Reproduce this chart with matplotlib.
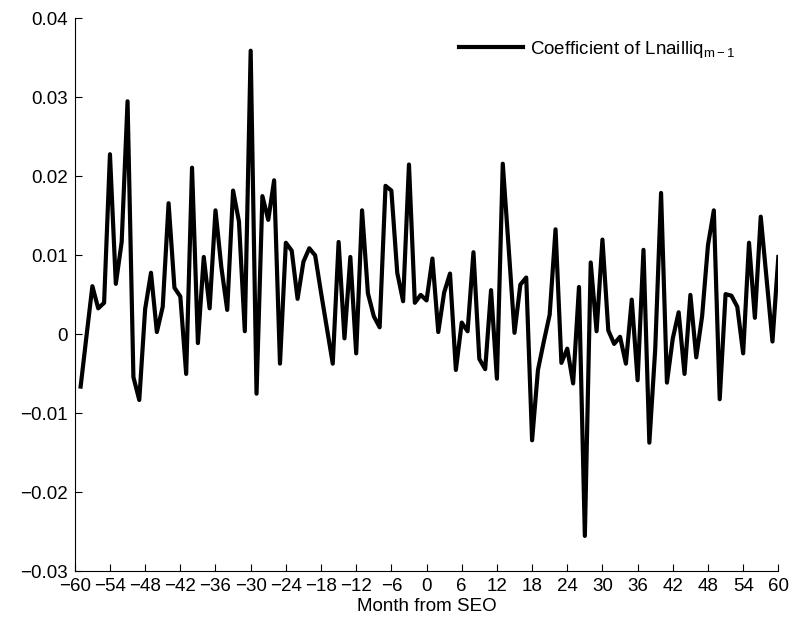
"""Monthly coefficient of lagged illiquidity around the SEO month."""

import matplotlib.pyplot as plt
import numpy as np

plt.rcParams["font.family"] = ["Liberation Sans", "DejaVu Sans"]
plt.rcParams["mathtext.default"] = "regular"

months = np.arange(-59, 61)

coef = [
    -0.0066, -0.0002, 0.0061, 0.0033, 0.0040, 0.0228, 0.0064, 0.0117, 0.0295, -0.0054,
    -0.0083, 0.0032, 0.0078, 0.0003, 0.0035, 0.0166, 0.0059, 0.0048, -0.0050, 0.0211,
    -0.0011, 0.0098, 0.0033, 0.0157, 0.0085, 0.0031, 0.0182, 0.0143, 0.0004, 0.0359,
    -0.0075, 0.0175, 0.0145, 0.0195, -0.0037, 0.0116, 0.0106, 0.0045, 0.0092, 0.0109,
    0.0100, 0.0053, 0.0008, -0.0037, 0.0117, -0.0005, 0.0098, -0.0024, 0.0157, 0.0052,
    0.0023, 0.0009, 0.0188, 0.0182, 0.0078, 0.0042, 0.0215, 0.0040, 0.0050, 0.0043,
    0.0096, 0.0003, 0.0053, 0.0077, -0.0045, 0.0015, 0.0004, 0.0104, -0.0031, -0.0044,
    0.0056, -0.0056, 0.0216, 0.0110, 0.0002, 0.0063, 0.0072, -0.0134, -0.0045, -0.0009,
    0.0025, 0.0133, -0.0036, -0.0018, -0.0062, 0.0060, -0.0255, 0.0091, 0.0004, 0.0120,
    0.0005, -0.0012, -0.0003, -0.0037, 0.0044, -0.0058, 0.0107, -0.0137, -0.0019, 0.0179,
    -0.0061, -0.0005, 0.0028, -0.0050, 0.0050, -0.0029, 0.0023, 0.0113, 0.0157, -0.0082,
    0.0051, 0.0049, 0.0035, -0.0024, 0.0116, 0.0021, 0.0149, 0.0070, -0.0009, 0.0098,
]

xticks = list(range(-60, 61, 6))
yticks = [-0.03, -0.02, -0.01, 0, 0.01, 0.02, 0.03, 0.04]

fig = plt.figure(figsize=(7.93, 6.31), dpi=100)
ax = fig.add_axes([0.0943, 0.0943, 0.8872, 0.8767])

ax.plot(months, coef, color="black", linewidth=3,
        label="Coefficient of Lnailliq$_{m-1}$")

ax.set_xlim(-60, 60)
ax.set_ylim(-0.03, 0.04)
ax.set_xticks(xticks)
ax.set_xticklabels([f"{t}".replace("-", "\u2212") for t in xticks])
ax.set_yticks(yticks)
ax.set_yticklabels(["0" if t == 0 else f"{t:.2f}".replace("-", "\u2212") for t in yticks])
ax.tick_params(direction="in", length=5, width=0.8, labelsize=13.5, pad=5)
ax.set_xlabel("Month from SEO", fontsize=13.5, labelpad=2)

ax.spines["top"].set_visible(False)
ax.spines["right"].set_visible(False)
for s in ("left", "bottom"):
    ax.spines[s].set_linewidth(0.8)

ax.legend(loc="center left", bbox_to_anchor=(459 / 793, 1 - 49 / 631),
          bbox_transform=fig.transFigure, frameon=False, fontsize=13.5,
          borderpad=0, borderaxespad=0, handlelength=3.4, handletextpad=0.4)

fig.savefig("out.png", dpi=100)
